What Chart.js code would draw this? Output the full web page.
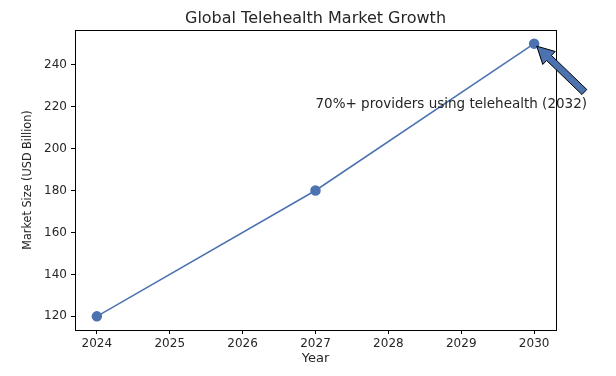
<!DOCTYPE html>
<html>
<head>
<meta charset="utf-8">
<script src="https://cdn.jsdelivr.net/npm/chart.js@4"></script>
<style>
  html, body { margin: 0; padding: 0; background: #fff; }
  #wrap { width: 616px; height: 376px; }
</style>
</head>
<body>
<div id="wrap"><canvas id="marketChart" width="616" height="376"></canvas></div>
<script>
// data
const years = [2024, 2027, 2030];
const marketSize = [120, 180, 250];
const xTicks = [2024, 2025, 2026, 2027, 2028, 2029, 2030];
const yTicks = [120, 140, 160, 180, 200, 220, 240];
const noteText = "70%+ providers using telehealth (2032)";
const notePos = [2027, 220];   // where the text sits
const notePoint = [2030, 250]; // what the arrow points at

const blue = "#4c72b0";
const ink = "#262626";

// frame, title, axis labels and the annotation arrow
const extras = {
  id: "extras",
  afterDraw(chart) {
    const { ctx, chartArea: a, scales: { x, y } } = chart;
    ctx.save();

    ctx.strokeStyle = "#000";
    ctx.lineWidth = 1;
    ctx.strokeRect(a.left + 0.5, a.top + 0.5, a.right - a.left, a.bottom - a.top);

    ctx.fillStyle = ink;
    ctx.textAlign = "center";
    ctx.textBaseline = "alphabetic";
    ctx.font = "16px 'DejaVu Sans'";
    ctx.fillText("Global Telehealth Market Growth", (a.left + a.right) / 2, 23);

    ctx.font = "13px 'DejaVu Sans'";
    ctx.fillText("Year", (a.left + a.right) / 2, 362);

    ctx.save();
    ctx.translate(31, (a.top + a.bottom) / 2);
    ctx.rotate(-Math.PI / 2);
    ctx.font = "12.5px 'DejaVu Sans Condensed', 'Liberation Sans Narrow', 'Roboto Condensed', sans-serif";
    ctx.fillText("Market Size (USD Billion)", 0, 0);
    ctx.restore();

    // annotation text, left aligned on its data point
    ctx.font = "13.5px 'DejaVu Sans'";
    ctx.textAlign = "left";
    const tx = x.getPixelForValue(notePos[0]);
    const ty = y.getPixelForValue(notePos[1]);
    ctx.fillText(noteText, tx, ty + 1);
    const w = ctx.measureText(noteText).width;
    const box = { x0: tx, x1: tx + w, y0: ty - 12, y1: ty + 3 };

    // arrow starts at the corner of the text box nearest the point
    const px = x.getPixelForValue(notePoint[0]);
    const py = y.getPixelForValue(notePoint[1]);
    const xs = [box.x0, (box.x0 + box.x1) / 2, box.x1];
    const ys = [box.y0, (box.y0 + box.y1) / 2, box.y1];
    const sx = xs.reduce((b, v) => Math.abs(v - px) < Math.abs(b - px) ? v : b);
    const sy = ys.reduce((b, v) => Math.abs(v - py) < Math.abs(b - py) ? v : b);

    const dx = px - sx, dy = py - sy;
    const len = Math.hypot(dx, dy);
    const ux = dx / len, uy = dy / len;
    const shrink = 0.05 * len;
    const x1 = sx + ux * shrink, y1 = sy + uy * shrink;
    const x2 = px - ux * shrink, y2 = py - uy * shrink;
    const L = Math.hypot(x2 - x1, y2 - y1);
    const bodyW = 7, headW = 18, headL = 17;
    const nx = -uy, ny = ux;
    const bx = x1 + ux * (L - headL), by = y1 + uy * (L - headL);
    const pts = [
      [x1 + nx * bodyW / 2, y1 + ny * bodyW / 2],
      [bx + nx * bodyW / 2, by + ny * bodyW / 2],
      [bx + nx * headW / 2, by + ny * headW / 2],
      [x2, y2],
      [bx - nx * headW / 2, by - ny * headW / 2],
      [bx - nx * bodyW / 2, by - ny * bodyW / 2],
      [x1 - nx * bodyW / 2, y1 - ny * bodyW / 2]
    ];
    ctx.beginPath();
    pts.forEach((p, i) => i ? ctx.lineTo(p[0], p[1]) : ctx.moveTo(p[0], p[1]));
    ctx.closePath();
    ctx.fillStyle = blue;
    ctx.fill();
    ctx.strokeStyle = "#000";
    ctx.lineWidth = 1;
    ctx.stroke();

    ctx.restore();
  }
};

new Chart(document.getElementById("marketChart").getContext("2d"), {
  type: "line",
  data: {
    datasets: [{
      label: "Market Size",
      data: years.map((yr, i) => ({ x: yr, y: marketSize[i] })),
      borderColor: blue,
      backgroundColor: blue,
      borderWidth: 1.5,
      pointRadius: 4.5,
      pointHoverRadius: 4.5,
      tension: 0
    }]
  },
  options: {
    responsive: false,
    animation: false,
    layout: { padding: { top: 30, right: 60, left: 0, bottom: 0 } },
    plugins: {
      legend: { display: false },
      tooltip: { enabled: false },
      title: { display: false }
    },
    scales: {
      x: {
        type: "linear",
        min: 2023.7,
        max: 2030.3,
        afterBuildTicks: s => { s.ticks = xTicks.map(v => ({ value: v })); },
        afterFit: s => { s.height = 46; },
        grid: { drawOnChartArea: false, drawTicks: true, tickLength: 4, color: "#000" },
        border: { display: false },
        ticks: {
          color: ink,
          font: { family: "DejaVu Sans", size: 12 },
          padding: 3,
          maxRotation: 0,
          callback: v => String(v)
        }
      },
      y: {
        min: 113.5,
        max: 256.5,
        afterBuildTicks: s => { s.ticks = yTicks.map(v => ({ value: v })); },
        afterFit: s => { s.width = 75; },
        grid: { drawOnChartArea: false, drawTicks: true, tickLength: 4, color: "#000" },
        border: { display: false },
        ticks: {
          color: ink,
          font: { family: "DejaVu Sans", size: 12 },
          padding: 4
        }
      }
    }
  },
  plugins: [extras]
});
</script>
</body>
</html>
